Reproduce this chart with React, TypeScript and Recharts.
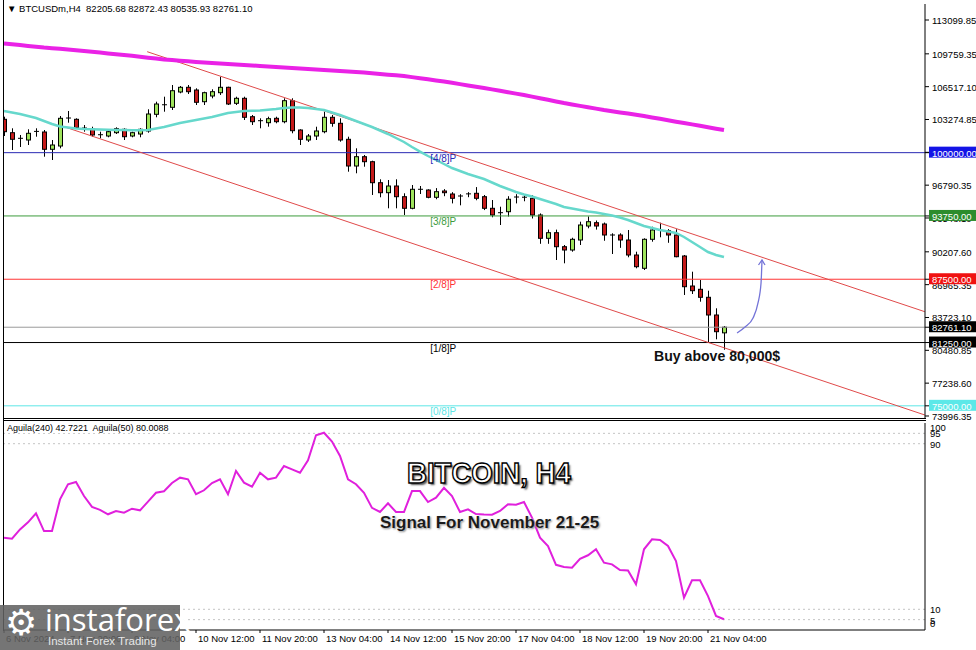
import React from "react";
import {
  Bar,
  ComposedChart,
  Line,
  ReferenceDot,
  ReferenceLine,
  XAxis,
  YAxis,
} from "recharts";

// H4 candles, oldest first (6 Nov 12:00 .. 21 Nov 12:00)
const opens = [
  103294, 101971, 101418, 101250, 102040, 102040, 100332, 100657, 103393, 103294,
  102405, 102336, 101744, 101645, 101971, 102307, 101645, 101842, 102139, 103788,
  104706, 104479, 105990, 106454, 106187, 105032, 105595, 105921, 106454, 104874,
  105368, 103551, 103156, 102958, 103393, 103057, 105131, 102237, 101250, 101645,
  102070, 103492, 102899, 101319, 98682, 99601, 99107, 97033, 96046, 96707,
  95651, 94505, 96382, 96312, 95592, 96214, 95917, 95720, 95850, 95987,
  95651, 94505, 94071, 94170, 95592, 95592, 95493, 93844, 91543, 92096,
  90713, 90387, 91375, 92757, 93083, 92955, 91869, 91869, 91375, 89894,
  88580, 91444, 92293, 92293, 91869, 89795, 86832, 86507, 85717, 83969,
  82205.68,
];
const highs = [
  103551, 102405, 101744, 102307, 102405, 102237, 101250, 103620, 104114, 103393,
  102731, 102563, 102070, 102237, 102504, 102405, 102070, 102405, 104282, 105032,
  105526, 106681, 106582, 106681, 106355, 106020, 106257, 107501, 106513, 105526,
  105526, 103719, 103393, 103551, 103551, 105368, 105368, 102307, 101842, 102563,
  104045, 103719, 103393, 101576, 100430, 99769, 99206, 97369, 97300, 97369,
  95987, 96806, 96707, 96382, 96500, 96400, 96100, 95900, 96100, 96600,
  95820, 95325, 94663, 95700, 95900, 95900, 95800, 94000, 92400, 92400,
  90881, 91600, 93182, 93700, 93300, 93100, 92037, 92037, 92362, 90220,
  91543, 92688, 93083, 92450, 92432, 89894, 88245, 87425, 86368, 84630,
  82872.43,
];
const lows = [
  101645, 100262, 100559, 100756, 101576, 99601, 99275, 100430, 102958, 102366,
  102070, 101576, 101418, 101517, 101842, 101250, 101517, 101517, 101971, 103492,
  104045, 104212, 105862, 105792, 104706, 104706, 105368, 105694, 104706, 104706,
  103225, 102731, 102405, 102563, 102899, 102899, 101912, 100756, 101052, 101250,
  101912, 102563, 101082, 98120, 97962, 98613, 95819, 95592, 94505, 94505,
  93844, 94407, 95917, 95493, 95400, 95700, 94990, 94800, 95600, 95300,
  94330, 93617, 92856, 93690, 94990, 95200, 93500, 91000, 91000, 89400,
  89074, 90220, 90881, 92530, 92400, 91300, 89992, 90600, 89667, 88580,
  88412, 91207, 91642, 91100, 89667, 85944, 86042, 85282, 81233, 81569,
  80535.93,
];
const closes = [
  102070, 101319, 101380, 101912, 102100, 100332, 100756, 103393, 103420, 102465,
  102430, 101744, 101770, 102070, 102366, 101576, 101971, 102307, 103817, 104805,
  104730, 106118, 106454, 106020, 104973, 105921, 106020, 106454, 104805, 105368,
  103492, 103057, 103130, 103354, 103057, 105131, 102168, 101319, 101645, 102139,
  103492, 102899, 101250, 98682, 99601, 99107, 97033, 96046, 96707, 95651,
  94505, 96382, 96350, 95592, 96145, 96046, 95493, 95700, 95930, 95493,
  94505, 93844, 94050, 95400, 95620, 95600, 93844, 91543, 92096, 90713,
  90387, 91444, 92856, 93182, 92757, 91869, 91850, 91375, 89894, 88738,
  91444, 92362, 92330, 91869, 89726, 86763, 86368, 85717, 83969, 82320,
  82761.1,
];

// cyan moving average
const fastMa = [
  104114, 103966, 103817, 103620, 103422, 103126, 102830, 102583, 102484, 102386,
  102336, 102307, 102287, 102257, 102237, 102237, 102218, 102208, 102237, 102386,
  102534, 102731, 102929, 103077, 103225, 103373, 103521, 103719, 103916, 104015,
  104114, 104133, 104163, 104232, 104311, 104410, 104459, 104459, 104410, 104311,
  104212, 103966, 103719, 103422, 103126, 102830, 102534, 102188, 101842, 101447,
  101052, 100559, 100095, 99670, 99275, 98880, 98485, 98189, 97892, 97646,
  97399, 97053, 96707, 96411, 96115, 95868, 95671, 95424, 95177, 94930,
  94634, 94486, 94337, 94189, 94091, 93942, 93794, 93597, 93350, 93054,
  92757, 92560, 92362, 92214, 92066, 91671, 91177, 90684, 90190, 89894,
  89696,
];
// magenta moving average
const slowMa = [
  110780, 110700, 110620, 110540, 110460, 110380, 110320, 110250, 110180, 110110,
  110040, 109960, 109880, 109800, 109720, 109640, 109560, 109470, 109380, 109290,
  109200, 109140, 109080, 109020, 108960, 108900, 108850, 108800, 108750, 108700,
  108660, 108610, 108560, 108510, 108460, 108410, 108360, 108310, 108260, 108210,
  108160, 108110, 108060, 108010, 107960, 107910, 107840, 107770, 107700, 107640,
  107570, 107460, 107350, 107240, 107130, 107030, 106900, 106770, 106640, 106510,
  106390, 106250, 106110, 105970, 105830, 105690, 105530, 105380, 105220, 105060,
  104900, 104760, 104620, 104490, 104350, 104210, 104090, 103970, 103860, 103740,
  103620, 103480, 103340, 103200, 103060, 102930, 102790, 102650, 102510, 102370,
  102240,
];
// Aguila oscillator
const aguila = [
  44.6, 44.1, 48.6, 52, 56.4, 47.8, 47.8, 63.1, 70.4, 71.5,
  64.7, 59.5, 58, 55.9, 57.5, 56.7, 58.6, 57.8, 62, 66.3,
  67, 71, 73.6, 72.8, 65.6, 67.5, 71, 72.8, 65.6, 76.8,
  71.2, 69.2, 76, 72.8, 73.6, 79.2, 77.6, 76, 82, 94.1,
  95.3, 91, 84.1, 72.8, 70.4, 66.3, 59, 57, 61.2, 57,
  57, 67.1, 67.1, 61.8, 63.9, 68.7, 64.7, 57, 58.3, 56,
  55.8, 55.7, 57.5, 60.7, 60.5, 61.8, 54.3, 44.6, 40.5, 31.5,
  30.4, 30.1, 34.4, 36.1, 39, 32.5, 31.7, 29, 28.8, 22.1,
  39, 43.8, 43.5, 40.6, 33.3, 15.6, 24, 24, 16.4, 6.8,
  5.2,
];

const timeTicks = [0, 8, 16, 24, 32, 40, 48, 56, 64, 72, 80, 88];
const timeLabels = [
  "6 Nov 2024", "7 Nov 20:00", "9 Nov 04:00", "10 Nov 12:00", "11 Nov 20:00", "13 Nov 04:00",
  "14 Nov 12:00", "15 Nov 20:00", "17 Nov 04:00", "18 Nov 12:00", "19 Nov 20:00", "21 Nov 04:00",
];

const priceTicks = [
  113099.85, 109759.35, 106517.1, 103274.85, 100032.6, 96790.35, 93548.1,
  90207.6, 86965.35, 83723.1, 80480.85, 77238.6, 73996.35,
];
const levels = [100000, 93750, 87500, 81250, 75000];
const levelNames = ["[4/8]P", "[3/8]P", "[2/8]P", "[1/8]P", "[0/8]P"];
const levelColors = ["#2a2ab4", "#3c9c3c", "#ff3434", "#000000", "#5ee6e6"];
const levelBoxes = ["#1414e6", "#2c8c2c", "#f01212", "#000000", "#5ce8e8"];
const lastPrice = 82761.1;

const oscTicks = [100, 95, 90, 10, 5, 0];
const oscLevels = [95, 90, 10, 5];

// channel drawn on the chart: [candle index, price]
const upperChannel = [
  [17.9, 109970],
  [115.1, 84295],
];
const lowerChannel = [
  [7.6, 102534],
  [115.1, 74094],
];
// hand-drawn arrow
const arrowIdx = [91.63, 92.63, 93.63, 94.25, 94.63, 94.75];
const arrowPrice = [82191, 82784, 83672, 85154, 87129, 89400];

const rows = opens.map((o, i) => ({
  i,
  o,
  h: highs[i],
  l: lows[i],
  c: closes[i],
  fast: fastMa[i],
  slow: slowMa[i],
  ag: aguila[i],
}));
const arrow = arrowIdx.map((i, k) => ({ i, p: arrowPrice[k] }));

const X_DOMAIN: [number, number] = [-0.125, 115.125];
const FONT = "'Liberation Sans', Arial, sans-serif";

function Candle(props: any) {
  const { x, y, width, height, payload } = props;
  if (!payload) return null;
  const top = height >= 0 ? y : y + height;
  const span = Math.abs(height);
  const k = payload.h === payload.l ? 0 : span / (payload.h - payload.l);
  const yo = top + (payload.h - payload.o) * k;
  const yc = top + (payload.h - payload.c) * k;
  const cx = Math.round(x + width / 2) + 0.5;
  const bodyTop = Math.min(yo, yc);
  const bodyH = Math.abs(yo - yc);
  const up = payload.c >= payload.o;
  return (
    <g>
      <line x1={cx} x2={cx} y1={top} y2={top + span} stroke="#000" strokeWidth={1} />
      {bodyH < 1.5 ? (
        <line x1={cx - 2.5} x2={cx + 2.5} y1={bodyTop} y2={bodyTop} stroke="#000" strokeWidth={1} />
      ) : (
        <rect
          x={cx - 2}
          y={bodyTop}
          width={4}
          height={bodyH}
          fill={up ? "#9ee35c" : "#c41a1a"}
          stroke="#000"
          strokeWidth={1}
        />
      )}
    </g>
  );
}

function PriceTick(props: any) {
  const { x, y, payload } = props;
  const v = payload.value as number;
  const li = levels.indexOf(v);
  const text = v.toFixed(2);
  const bg = li >= 0 ? levelBoxes[li] : v === lastPrice ? "#000" : null;
  if (bg) {
    return (
      <g>
        <rect x={x - 3} y={y - 6} width={52} height={11} fill={bg} />
        <text x={x} y={y} dy={4} fontSize={9.5} fill="#fff" fontFamily={FONT}>
          {text}
        </text>
      </g>
    );
  }
  return (
    <text x={x} y={y} dy={4} fontSize={9.5} fill="#000" fontFamily={FONT}>
      {text}
    </text>
  );
}

function OscTick(props: any) {
  const { x, y, payload } = props;
  const shift: Record<number, number> = { 100: 4, 0: -7 };
  return (
    <text x={x} y={y + (shift[payload.value] ?? 0)} dy={4} fontSize={9.5} fill="#000" fontFamily={FONT}>
      {payload.value}
    </text>
  );
}

function TimeTick(props: any) {
  const { x, y, payload } = props;
  const k = timeTicks.indexOf(payload.value);
  return (
    <text x={x + 2} y={y} dy={7} fontSize={9.5} fill="#000" fontFamily={FONT}>
      {timeLabels[k]}
    </text>
  );
}

function ArrowHead(props: any) {
  const { cx, cy, index } = props;
  if (index !== arrowIdx.length - 1) return null;
  return (
    <path
      d={`M${cx - 3.5},${cy + 5} L${cx},${cy} L${cx + 3},${cy + 5}`}
      fill="none"
      stroke="#7474d8"
      strokeWidth={1.3}
    />
  );
}

const lineBox = (style: React.CSSProperties): React.CSSProperties => ({
  position: "absolute",
  background: "#000",
  ...style,
});

export default function App() {
  return (
    <div
      style={{
        position: "absolute",
        left: 0,
        top: 0,
        width: 976,
        height: 650,
        background: "#fff",
        overflow: "hidden",
        fontFamily: FONT,
      }}
    >
      <div style={{ position: "absolute", left: 0, top: 420 }}>
        <ComposedChart
          width={976}
          height={230}
          data={rows}
          margin={{ top: 3, right: 0, bottom: 0, left: 3 }}
        >
          <XAxis
            type="number"
            dataKey="i"
            domain={X_DOMAIN}
            allowDataOverflow
            ticks={timeTicks}
            interval={0}
            height={20}
            tickSize={3}
            tickMargin={2}
            tick={<TimeTick />}
            tickLine={{ stroke: "#000" }}
            axisLine={{ stroke: "#000" }}
          />
          <YAxis
            orientation="right"
            type="number"
            domain={[0, 100]}
            ticks={oscTicks}
            interval={0}
            width={51}
            tickSize={2}
            tickMargin={3}
            tick={<OscTick />}
            tickLine={false}
            axisLine={{ stroke: "#000" }}
          />
          {oscLevels.map((v) => (
            <ReferenceLine key={v} y={v} stroke="#c4c4c4" strokeDasharray="2 3" />
          ))}
          <Line
            dataKey="ag"
            stroke="#e020dc"
            strokeWidth={2}
            dot={false}
            activeDot={false}
            isAnimationActive={false}
          />
        </ComposedChart>
      </div>

      <div style={{ position: "absolute", left: 0, top: 0 }}>
        <ComposedChart
          width={976}
          height={430}
          data={rows}
          margin={{ top: 4, right: 0, bottom: 12, left: 3 }}
        >
          <XAxis type="number" dataKey="i" domain={X_DOMAIN} allowDataOverflow hide />
          <YAxis
            orientation="right"
            type="number"
            domain={[73797.5, 114680]}
            allowDataOverflow
            ticks={[...priceTicks, ...levels, lastPrice]}
            interval={0}
            width={51}
            tickSize={4}
            tickMargin={3}
            tick={<PriceTick />}
            tickLine={{ stroke: "#000" }}
            axisLine={{ stroke: "#000" }}
          />
          {levels.map((v, k) => (
            <ReferenceLine key={v} y={v} stroke={levelColors[k]} strokeWidth={1} />
          ))}
          <ReferenceLine y={lastPrice} stroke="#9a9a9a" strokeWidth={1} />
          <ReferenceLine
            segment={[
              { x: upperChannel[0][0], y: upperChannel[0][1] },
              { x: upperChannel[1][0], y: upperChannel[1][1] },
            ]}
            stroke="#e04a4a"
            strokeWidth={1}
          />
          <ReferenceLine
            segment={[
              { x: lowerChannel[0][0], y: lowerChannel[0][1] },
              { x: lowerChannel[1][0], y: lowerChannel[1][1] },
            ]}
            stroke="#e04a4a"
            strokeWidth={1}
          />
          <Line
            dataKey="slow"
            stroke="#ea22e6"
            strokeWidth={4}
            dot={false}
            activeDot={false}
            isAnimationActive={false}
          />
          <Line
            dataKey="fast"
            stroke="#66d8cc"
            strokeWidth={2.5}
            dot={false}
            activeDot={false}
            isAnimationActive={false}
          />
          <Bar
            dataKey={(d: any) => [d.l, d.h]}
            barSize={5}
            shape={<Candle />}
            isAnimationActive={false}
          />
          <Line
            data={arrow}
            dataKey="p"
            type="monotone"
            stroke="#7474d8"
            strokeWidth={1.3}
            dot={<ArrowHead />}
            activeDot={false}
            isAnimationActive={false}
          />
          {levels.map((v, k) => (
            <ReferenceDot
              key={`n${v}`}
              x={54.9}
              y={v}
              r={0}
              fill="none"
              stroke="none"
              label={{
                value: levelNames[k],
                position: "bottom",
                offset: 2,
                fill: levelColors[k],
                fontSize: 10,
              }}
            />
          ))}
        </ComposedChart>
      </div>

      {/* panel frames */}
      <div style={lineBox({ left: 3, top: 0, width: 1, height: 631 })} />
      <div style={lineBox({ left: 3, top: 418, width: 923, height: 1 })} />
      <div style={lineBox({ left: 3, top: 420, width: 923, height: 1 })} />

      {/* texts */}
      <div
        style={{
          position: "absolute",
          left: 7,
          top: 3,
          fontSize: 9.5,
          whiteSpace: "pre",
          color: "#000",
        }}
      >
        {"▼ BTCUSDm,H4  82205.68 82872.43 80535.93 82761.10"}
      </div>
      <div
        style={{
          position: "absolute",
          left: 7,
          top: 423,
          fontSize: 9,
          whiteSpace: "pre",
          color: "#000",
          background: "#fff",
        }}
      >
        {"Aguila(240) 42.7221  Aguila(50) 80.0088"}
      </div>
      <div
        style={{
          position: "absolute",
          left: 654,
          top: 347,
          fontSize: 15,
          fontWeight: 700,
          color: "#111",
          whiteSpace: "pre",
          transform: "scaleX(0.94)",
          transformOrigin: "left top",
        }}
      >
        Buy above 80,000$
      </div>
      <div
        style={{
          position: "absolute",
          left: 407,
          top: 457,
          fontSize: 29,
          fontWeight: 700,
          color: "#fff",
          whiteSpace: "pre",
          WebkitTextStroke: "1.4px #000",
          textShadow: "2px 2px 2px #555",
          transform: "scaleX(0.95)",
          transformOrigin: "left top",
        }}
      >
        BITCOIN, H4
      </div>
      <div
        style={{
          position: "absolute",
          left: 380,
          top: 513,
          fontSize: 17,
          fontWeight: 700,
          color: "#1a1a1a",
          whiteSpace: "pre",
          textShadow: "0 0 2px #fff, 1px 1px 2px #777",
        }}
      >
        Signal For November 21-25
      </div>

      {/* logo */}
      <div
        style={{
          position: "absolute",
          left: 0,
          top: 605,
          width: 180,
          height: 45,
          background: "rgba(98,98,98,0.88)",
          color: "#fff",
        }}
      >
        <div style={{ position: "absolute", left: 5, top: -2, fontSize: 36, lineHeight: "40px", fontFamily: "'DejaVu Sans'" }}>
          ⚙
        </div>
        <div style={{ position: "absolute", left: 45, top: -4, fontSize: 31, lineHeight: "36px", fontFamily: "'Open Sans', sans-serif" }}>
          instaforex
        </div>
        <div style={{ position: "absolute", left: 48, top: 29, fontSize: 11.5, lineHeight: "14px", color: "#e6e6e6" }}>
          Instant Forex Trading
        </div>
      </div>
    </div>
  );
}
